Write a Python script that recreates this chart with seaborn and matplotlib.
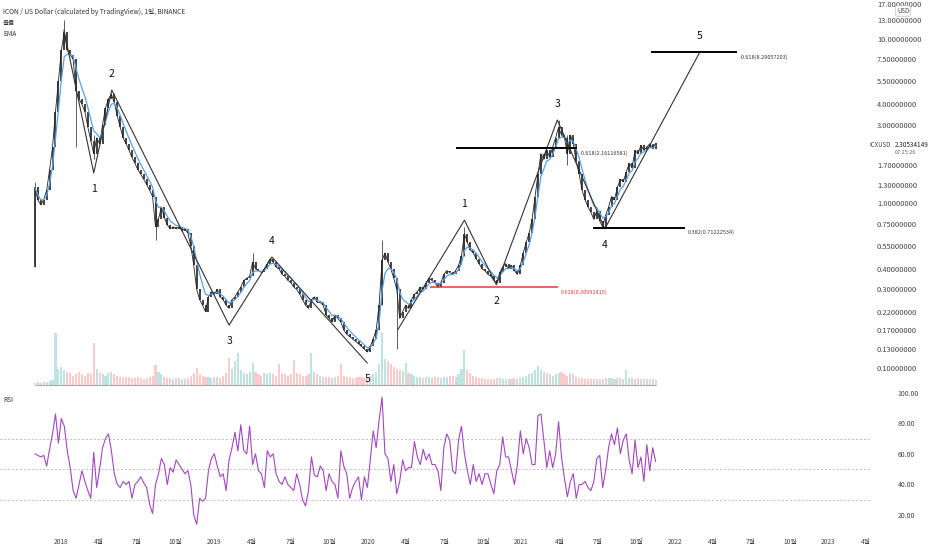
import pandas as pd
import matplotlib
matplotlib.use("Agg")
import matplotlib.pyplot as plt
from matplotlib.ticker import NullLocator
import seaborn as sns

# ICX/USD weekly closes (first week = 2017-10-31)
START = "2017-10-31"
closes = [
    1.25, 1.05, 0.98, 1.05, 1.20, 1.60, 2.20, 3.60, 5.50, 8.50,
    11.0, 8.50, 8.00, 7.50, 4.80, 4.30, 4.00, 3.60, 2.90, 2.40,
    2.00, 2.50, 2.30, 3.00, 3.80, 4.30, 4.60, 4.10, 3.40, 2.90,
    2.50, 2.30, 2.10, 1.90, 1.75, 1.60, 1.50, 1.40, 1.30, 1.20,
    1.10, 0.72, 0.80, 0.95, 0.82, 0.74, 0.70, 0.72, 0.70, 0.72,
    0.68, 0.70, 0.66, 0.55, 0.42, 0.30, 0.26, 0.24, 0.22, 0.27,
    0.29, 0.28, 0.30, 0.27, 0.26, 0.24, 0.23, 0.26, 0.27, 0.29,
    0.31, 0.34, 0.35, 0.36, 0.44, 0.40, 0.39, 0.38, 0.40, 0.43,
    0.46, 0.44, 0.41, 0.40, 0.37, 0.36, 0.34, 0.33, 0.31, 0.30,
    0.28, 0.26, 0.24, 0.23, 0.26, 0.27, 0.25, 0.25, 0.24, 0.21,
    0.20, 0.19, 0.21, 0.20, 0.19, 0.17, 0.16, 0.155, 0.15, 0.145,
    0.14, 0.135, 0.13, 0.125, 0.135, 0.15, 0.17, 0.24, 0.45, 0.50,
    0.44, 0.40, 0.35, 0.30, 0.20, 0.22, 0.24, 0.23, 0.26, 0.28,
    0.29, 0.31, 0.30, 0.33, 0.35, 0.34, 0.33, 0.31, 0.33, 0.37,
    0.39, 0.38, 0.37, 0.39, 0.42, 0.48, 0.65, 0.58, 0.52, 0.50,
    0.46, 0.43, 0.40, 0.39, 0.37, 0.36, 0.34, 0.33, 0.38, 0.41,
    0.43, 0.40, 0.42, 0.39, 0.37, 0.42, 0.50, 0.58, 0.66, 0.80,
    1.10, 1.50, 2.00, 1.85, 2.10, 1.90, 2.20, 2.50, 2.90, 2.60,
    2.50, 2.00, 2.60, 2.30, 1.80, 1.50, 1.20, 1.05, 0.95, 0.88,
    0.80, 0.90, 0.78, 0.72, 0.85, 0.95, 1.10, 1.05, 1.25, 1.40,
    1.35, 1.55, 1.75, 1.65, 2.10, 2.00, 2.25, 2.10, 2.20, 2.30,
    2.15, 2.31,
]
first_open = 0.41

volumes = [
    4, 5, 4, 5, 6, 8, 10, 100, 30, 35,
    28, 25, 22, 18, 20, 24, 20, 18, 22, 20,
    80, 30, 22, 20, 18, 22, 25, 20, 18, 15,
    14, 16, 15, 14, 13, 15, 14, 12, 13, 16,
    18, 38, 25, 20, 15, 14, 13, 12, 14, 13,
    12, 12, 14, 18, 22, 32, 20, 18, 16, 15,
    14, 16, 15, 14, 18, 22, 52, 30, 45, 62,
    28, 22, 20, 25, 42, 25, 20, 18, 22, 20,
    22, 20, 18, 40, 22, 20, 18, 20, 48, 22,
    20, 18, 18, 20, 62, 25, 20, 18, 16, 15,
    16, 14, 15, 18, 40, 18, 16, 15, 14, 14,
    16, 15, 14, 16, 18, 20, 25, 40, 100, 50,
    45, 40, 35, 30, 28, 26, 42, 22, 20, 18,
    16, 15, 14, 15, 16, 14, 15, 16, 14, 15,
    16, 18, 17, 16, 20, 30, 68, 28, 22, 18,
    16, 14, 13, 12, 12, 11, 12, 14, 13, 12,
    12, 11, 12, 13, 12, 14, 16, 18, 20, 22,
    28, 36, 28, 24, 22, 20, 18, 20, 22, 24,
    20, 18, 22, 20, 16, 14, 13, 12, 12, 11,
    12, 12, 11, 12, 13, 14, 13, 12, 14, 13,
    12, 28, 14, 13, 12, 13, 12, 11, 12, 11,
    12, 10,
]

rsi_vals = [
    60, 59, 58, 59, 52, 63, 73, 86, 67, 83,
    78, 62, 51, 36, 31, 40, 49, 42, 36, 31,
    61, 38, 50, 64, 70, 73, 62, 47, 40, 38,
    42, 40, 42, 31, 40, 42, 45, 41, 38, 27,
    21, 40, 47, 57, 53, 40, 51, 48, 56, 53,
    50, 47, 49, 40, 20, 14, 31, 29, 31, 49,
    57, 60, 52, 45, 47, 36, 56, 64, 74, 62,
    79, 62, 60, 78, 53, 60, 49, 47, 38, 62,
    58, 60, 47, 42, 40, 45, 40, 38, 36, 47,
    40, 30, 26, 36, 58, 46, 45, 52, 49, 36,
    47, 42, 40, 31, 62, 52, 47, 31, 38, 42,
    45, 30, 45, 38, 56, 75, 64, 82, 97, 60,
    57, 42, 53, 34, 42, 56, 49, 51, 51, 68,
    58, 53, 63, 56, 60, 53, 53, 49, 36, 64,
    73, 69, 49, 47, 69, 78, 60, 49, 40, 53,
    42, 47, 40, 47, 47, 40, 34, 49, 53, 71,
    58, 58, 49, 40, 53, 75, 60, 70, 64, 53,
    53, 85, 86, 69, 51, 62, 51, 60, 81, 58,
    44, 32, 42, 47, 31, 40, 40, 42, 38, 36,
    42, 57, 59, 38, 49, 64, 73, 66, 77, 60,
    69, 73, 56, 47, 69, 51, 58, 42, 66, 49,
    64, 55,
]

# long wicks worth keeping: week index, low, high
wick_idx = [0, 10, 14, 20, 41, 74, 118, 123, 146, 178, 181]
wick_low = [0.41, 9.0, 2.2, 1.85, 0.60, 0.40, 0.24, 0.13, 0.48, 2.5, 1.7]
wick_high = [1.35, 13.0, 5.6, 2.6, 1.05, 0.50, 0.60, 0.35, 0.72, 3.2, 2.6]

# Elliott wave counts
wave_a_dates = ["2018-01-08", "2018-03-20", "2018-05-02", "2019-02-05", "2019-05-18", "2019-12-31"]
wave_a_prices = [11.3, 1.53, 4.88, 0.182, 0.472, 0.107]
wave_b_dates = ["2020-03-12", "2020-08-18", "2020-11-02", "2021-03-27", "2021-07-18", "2022-03-01"]
wave_b_prices = [0.17, 0.79, 0.32, 3.21, 0.70, 8.29]

# fib levels
fib_prices = [8.29057203, 2.16116581, 0.71222534, 0.30991415]
fib_labels = ["-0.618(8.29057203)", "-0.618(2.16116581)", "0.382(0.71222534)", "0.618(0.30991415)"]
fib_start = ["2021-11-06", "2020-07-30", "2021-06-20", "2020-05-27"]
fib_end = ["2022-05-28", "2021-05-13", "2022-01-25", "2021-03-28"]
fib_colors = ["black", "black", "black", "#e53935"]

price_ticks = [17, 13, 10, 7.5, 5.5, 4, 3, 1.7, 1.3, 1.0, 0.75, 0.55, 0.40, 0.30, 0.22, 0.17, 0.13, 0.10]
rsi_ticks = [20, 40, 60, 80, 100]
last_price = "2.30534149"

sns.set_theme(style="white")
plt.rcParams["font.family"] = ["Noto Sans CJK KR", "DejaVu Sans"]

W, H = 932, 550
df = pd.DataFrame({
    "date": pd.date_range(START, periods=len(closes), freq="7D"),
    "close": closes,
    "volume": volumes,
    "rsi": rsi_vals,
})
df["open"] = df["close"].shift(1).fillna(first_open)
df["ema"] = df["close"].ewm(span=4).mean()
df["up"] = df["close"] >= df["open"]

fig = plt.figure(figsize=(W / 100, H / 100), dpi=100)
ax = fig.add_axes([0, 1 - 388 / H, 870 / W, 388 / H])
ax_rsi = fig.add_axes([0, 18 / H, 870 / W, 141 / H], sharex=ax)
ax_vol = ax.twinx()
ax.set_zorder(ax_vol.get_zorder() + 1)
ax.patch.set_visible(False)

# volume
vcol = df["up"].map({True: "#26a69a", False: "#ef5350"})
ax_vol.bar(df["date"], df["volume"], width=5, color=vcol, alpha=0.3, linewidth=0)
ax_vol.hlines(0, df["date"].iloc[0], df["date"].iloc[-1], color="#aaaaaa", lw=0.8)
ax_vol.set_ylim(-6, 740)
ax_vol.set_yticks([])
for s in ax_vol.spines.values():
    s.set_visible(False)

# candles
wk = df.iloc[wick_idx]
ax.vlines(wk["date"], wick_low, wick_high, color="#444444", lw=0.6)
lo = df[["open", "close"]].min(axis=1)
hi = df[["open", "close"]].max(axis=1)
ax.vlines(df["date"], lo, hi, color="#333333", lw=1.3)
sns.lineplot(data=df, x="date", y="close", ax=ax, color="#222222", lw=0.6)
sns.lineplot(data=df, x="date", y="ema", ax=ax, color="#5aa0e6", lw=0.9)

# waves
for dates, prices in [(wave_a_dates, wave_a_prices), (wave_b_dates, wave_b_prices)]:
    d = pd.to_datetime(dates)
    ax.plot(d, prices, color="#333333", lw=0.8)
    for i in range(1, len(prices)):
        peak = prices[i] > prices[i - 1]
        ax.annotate(str(i), (d[i], prices[i]), textcoords="offset points",
                    xytext=(0, 8 if peak else -8), ha="center",
                    va="bottom" if peak else "top", fontsize=7.5, color="#111111")

for p, lab, s, e, c in zip(fib_prices, fib_labels, fib_start, fib_end, fib_colors):
    ax.hlines(p, pd.Timestamp(s), pd.Timestamp(e), color=c, lw=1.4 if c == "black" else 1.1)
    ax.annotate(lab, (pd.Timestamp(e), p), textcoords="offset points", xytext=(2, -1.5),
                ha="left", va="top", fontsize=4.0, color="#333333" if c == "black" else c)

ax.set_yscale("log")
ax.set_ylim(0.0755, 17.2)
ax.set_xlim(pd.Timestamp("2017-08-09"), pd.Timestamp("2023-04-10"))
ax.yaxis.tick_right()
ax.set_yticks(price_ticks)
ylabels = ax.set_yticklabels([f"{v:.8f}" for v in price_ticks])
ylabels[0].set_verticalalignment("top")
ax.yaxis.set_minor_locator(NullLocator())
ax.tick_params(axis="y", length=0, pad=5, labelsize=5.4, labelcolor="#444444")
ax.tick_params(axis="x", length=0, labelbottom=False)
ax.set_xlabel("")
ax.set_ylabel("")
for s in ax.spines.values():
    s.set_visible(False)

# RSI
for lvl in [70, 50, 30]:
    ax_rsi.axhline(lvl, color="#c0c0c0", lw=0.7, ls=(0, (2, 2)))
sns.lineplot(data=df, x="date", y="rsi", ax=ax_rsi, color="#a346c0", lw=0.8)
ax_rsi.set_ylim(9, 101)
ax_rsi.yaxis.tick_right()
ax_rsi.set_yticks(rsi_ticks)
ax_rsi.set_yticklabels([f"{v:.2f}" for v in rsi_ticks])
ax_rsi.tick_params(axis="y", length=0, pad=20, labelsize=5.0, labelcolor="#444444")
quarters = pd.date_range("2018-01-01", "2023-04-01", freq="QS")
ax_rsi.set_xticks(quarters)
ax_rsi.set_xticklabels([str(q.year) if q.month == 1 else f"{q.month}월" for q in quarters])
ax_rsi.tick_params(axis="x", length=0, pad=4, labelsize=4.8, labelcolor="#444444")
ax_rsi.set_xlabel("")
ax_rsi.set_ylabel("")
for s in ax_rsi.spines.values():
    s.set_visible(False)

# header / side texts
fig.text(3 / W, 1 - 12 / H, "ICON / US Dollar (calculated by TradingView), 1일, BINANCE",
         fontsize=4.8, color="#333333", va="center")
fig.text(3 / W, 1 - 23 / H, "볼륨", fontsize=4.8, color="#333333", va="center")
fig.text(3 / W, 1 - 34 / H, "EMA", fontsize=4.8, color="#333333", va="center")
fig.text(3 / W, 1 - 400 / H, "RSI", fontsize=4.8, color="#333333", va="center")
fig.text(903 / W, 1 - 11 / H, "USD", fontsize=4.4, color="#444444", ha="center", va="center",
         bbox=dict(boxstyle="round,pad=0.2", fc="white", ec="#bbbbbb", lw=0.5))
fig.text(891 / W, 1 - 145 / H, "ICXUSD", fontsize=4.4, color="#444444", ha="right", va="center")
fig.text(895 / W, 1 - 145 / H, last_price, fontsize=4.6, color="#222222", ha="left", va="center")
fig.text(895 / W, 1 - 153 / H, "07:25:26", fontsize=4.0, color="#666666", ha="left", va="center")

fig.savefig("out.png", dpi=100)
